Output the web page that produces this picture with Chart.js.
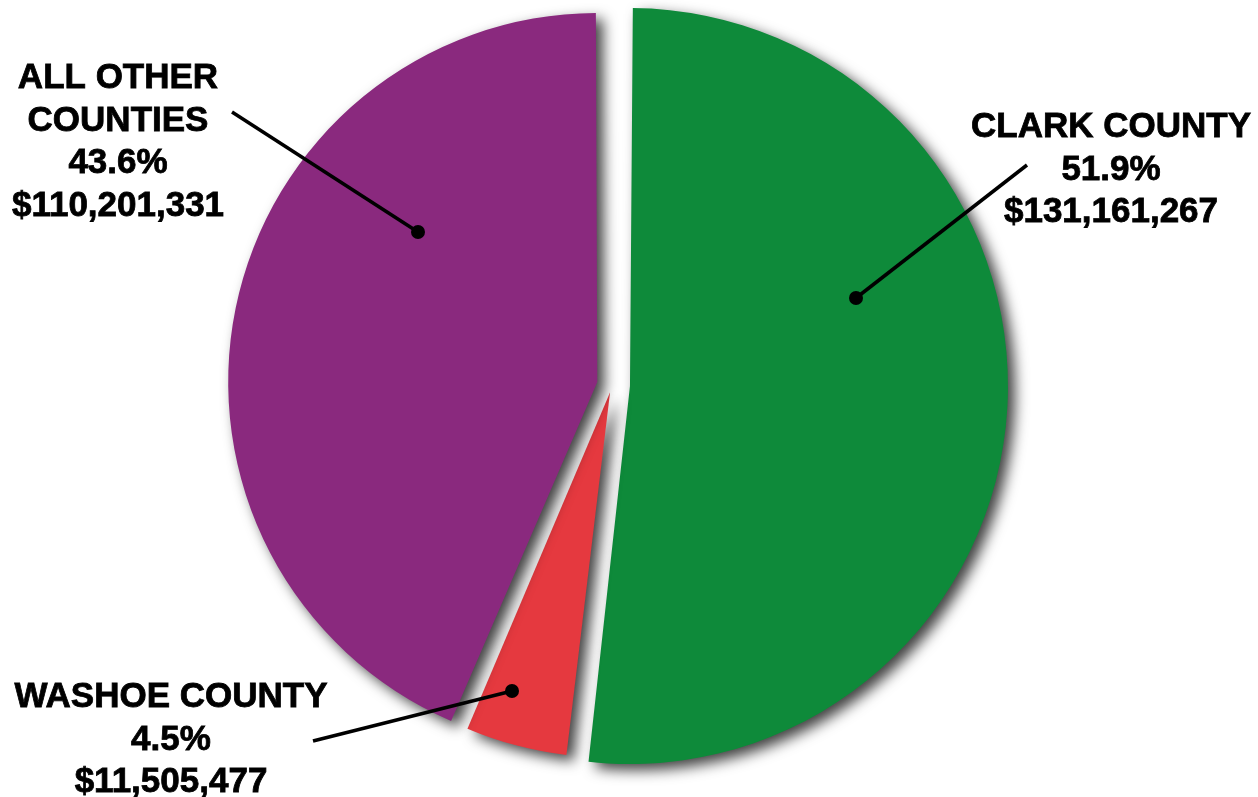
<!DOCTYPE html>
<html>
<head>
<meta charset="utf-8">
<script src="https://cdn.jsdelivr.net/npm/chart.js@4.4.1/dist/chart.umd.min.js"></script>
<style>
  html, body { margin: 0; padding: 0; background: #fff; }
  #wrap { width: 1258px; height: 797px; position: relative; }
</style>
</head>
<body>
<div id="wrap"><canvas id="pieChart" width="1258" height="797"></canvas></div>
<script>
// data, clockwise from 12 o'clock
let counties = ["CLARK COUNTY", "WASHOE COUNTY", "ALL OTHER COUNTIES"];
let amounts = [131161267, 11505477, 110201331];
let percents = ["51.9%", "4.5%", "43.6%"];
let sliceColors = ["#0e8a3a", "#e5393f", "#8a297e"];
let sliceOffsets = [72, 30, 60];

// where each callout sits (text block, leader line start, dot inside slice)
let callouts = [
    { lines: ["CLARK COUNTY", "51.9%", "$131,161,267"], x: 1111, y: 137, from: [1027, 165], dot: [856, 298] },
    { lines: ["WASHOE COUNTY", "4.5%", "$11,505,477"], x: 171, y: 707, from: [313, 741], dot: [512, 691] },
    { lines: ["ALL OTHER", "COUNTIES", "43.6%", "$110,201,331"], x: 118, y: 88, from: [232, 112], dot: [418, 232] }
];

function money(v) {
    return "$" + v.toLocaleString("en-US");
}

let shadowPlugin = {
    id: "sliceShadow",
    beforeDatasetsDraw(chart) {
        let ctx = chart.ctx;
        ctx.save();
        ctx.shadowColor = "rgba(0, 0, 0, 0.75)";
        ctx.shadowBlur = 14;
        ctx.shadowOffsetX = 7;
        ctx.shadowOffsetY = 6;
    },
    afterDatasetsDraw(chart) {
        chart.ctx.restore();
    }
};

let calloutPlugin = {
    id: "callouts",
    afterDraw(chart) {
        let ctx = chart.ctx;
        ctx.save();
        ctx.strokeStyle = "#000";
        ctx.fillStyle = "#000";
        ctx.lineWidth = 3.5;
        callouts.forEach((c, i) => {
            ctx.beginPath();
            ctx.moveTo(c.from[0], c.from[1]);
            ctx.lineTo(c.dot[0], c.dot[1]);
            ctx.stroke();
            ctx.beginPath();
            ctx.arc(c.dot[0], c.dot[1], 7, 0, Math.PI * 2);
            ctx.fill();

            ctx.font = "bold 35px 'Liberation Sans', Arial, sans-serif";
            ctx.textAlign = "center";
            ctx.textBaseline = "alphabetic";
            ctx.lineWidth = 0.8;
            let lines = c.lines.slice();
            lines[lines.length - 1] = money(amounts[i]);
            lines[lines.length - 2] = percents[i];
            lines.forEach((t, k) => {
                ctx.fillText(t, c.x, c.y + k * 42.5);
                ctx.strokeText(t, c.x, c.y + k * 42.5);
            });
            ctx.lineWidth = 3.5;
        });
        ctx.restore();
    }
};

let ctx = document.getElementById("pieChart").getContext("2d");
let chartInstance = new Chart(ctx, {
    type: "pie",
    data: {
        labels: counties,
        datasets: [{
            data: amounts,
            backgroundColor: sliceColors,
            borderWidth: 0,
            offset: sliceOffsets,
            radius: 360
        }]
    },
    options: {
        responsive: false,
        animation: false,
        layout: {
            padding: { left: 0, right: 34, top: 0, bottom: 27 }
        },
        plugins: {
            legend: { display: false },
            tooltip: { enabled: false }
        }
    },
    plugins: [shadowPlugin, calloutPlugin]
});
</script>
</body>
</html>
